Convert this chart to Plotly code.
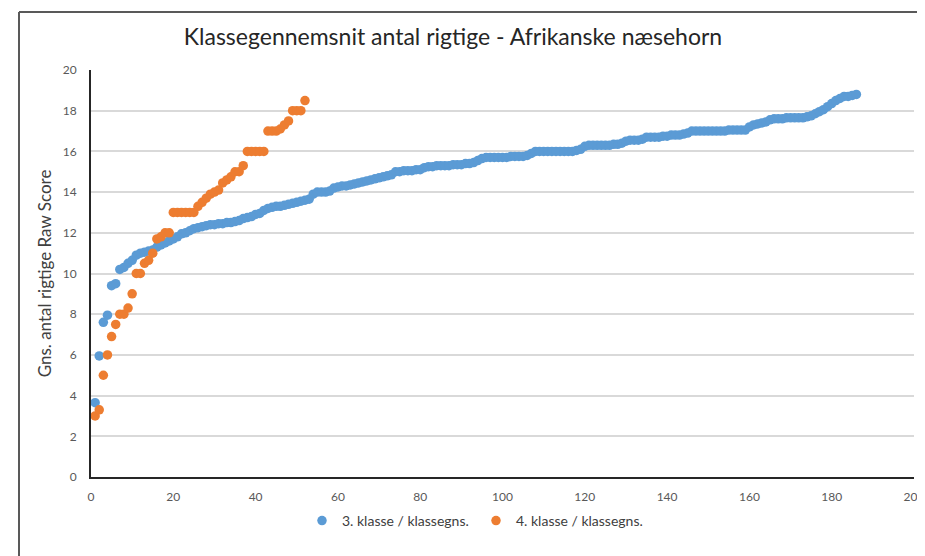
import plotly.graph_objects as go

title_text = "Klassegennemsnit antal rigtige - Afrikanske næsehorn"
y_title = "Gns. antal rigtige Raw Score"
series_names = ["3. klasse / klassegns.", "4. klasse / klassegns."]

klasse3 = [
    3.65, 5.95, 7.6, 7.95, 9.4, 9.5, 10.2, 10.3, 10.5, 10.65,
    10.9, 11.0, 11.05, 11.1, 11.15, 11.3, 11.4, 11.5, 11.6, 11.7,
    11.8, 11.95, 12.0, 12.1, 12.2, 12.25, 12.3, 12.35, 12.4, 12.4,
    12.45, 12.45, 12.5, 12.5, 12.55, 12.6, 12.7, 12.75, 12.8, 12.9,
    12.95, 13.1, 13.2, 13.25, 13.3, 13.3, 13.35, 13.4, 13.45, 13.5,
    13.55, 13.6, 13.65, 13.9, 14.0, 14.0, 14.0, 14.05, 14.2, 14.25,
    14.3, 14.3, 14.35, 14.4, 14.45, 14.5, 14.55, 14.6, 14.65, 14.7,
    14.75, 14.8, 14.85, 15.0, 15.0, 15.05, 15.05, 15.05, 15.1, 15.1,
    15.2, 15.25, 15.25, 15.3, 15.3, 15.3, 15.3, 15.35, 15.35, 15.35,
    15.4, 15.4, 15.45, 15.55, 15.65, 15.7, 15.7, 15.7, 15.7, 15.7,
    15.7, 15.75, 15.75, 15.75, 15.75, 15.8, 15.9, 16.0, 16.0, 16.0,
    16.0, 16.0, 16.0, 16.0, 16.0, 16.0, 16.0, 16.05, 16.1, 16.25,
    16.3, 16.3, 16.3, 16.3, 16.3, 16.3, 16.35, 16.35, 16.4, 16.5,
    16.55, 16.55, 16.55, 16.6, 16.7, 16.7, 16.7, 16.7, 16.75, 16.75,
    16.8, 16.8, 16.8, 16.85, 16.9, 17.0, 17.0, 17.0, 17.0, 17.0,
    17.0, 17.0, 17.0, 17.0, 17.05, 17.05, 17.05, 17.05, 17.05, 17.2,
    17.3, 17.35, 17.4, 17.45, 17.55, 17.6, 17.6, 17.6, 17.65, 17.65,
    17.65, 17.65, 17.65, 17.7, 17.75, 17.85, 17.95, 18.05, 18.2, 18.35,
    18.5, 18.6, 18.7, 18.7, 18.75, 18.8,
]

klasse4 = [
    3.0, 3.3, 5.0, 6.0, 6.9, 7.5, 8.0, 8.0, 8.3, 9.0,
    10.0, 10.0, 10.5, 10.65, 11.0, 11.7, 11.8, 12.0, 12.0, 13.0,
    13.0, 13.0, 13.0, 13.0, 13.0, 13.3, 13.5, 13.7, 13.9, 14.0,
    14.1, 14.45, 14.6, 14.75, 15.0, 15.0, 15.3, 16.0, 16.0, 16.0,
    16.0, 16.0, 17.0, 17.0, 17.0, 17.1, 17.3, 17.5, 18.0, 18.0,
    18.0, 18.5,
]

x3 = list(range(1, len(klasse3) + 1))
x4 = list(range(1, len(klasse4) + 1))

blue = "#5b9bd5"
orange = "#ed7d31"
font_family = "Lato, 'Open Sans', sans-serif"

fig = go.Figure()
fig.add_trace(go.Scatter(x=x3, y=klasse3, mode="markers", name=series_names[0],
                         marker=dict(color=blue, size=9.5, line=dict(width=0))))
fig.add_trace(go.Scatter(x=x4, y=klasse4, mode="markers", name=series_names[1],
                         marker=dict(color=orange, size=9.5, line=dict(width=0))))

# page body has an 8px margin: work in reference-pixel coordinates shifted by 8
OFF = 8
W, H = 925 - OFF, 556 - OFF
L, T = 91 - OFF, 70 - OFF
R = W - (914 - OFF)
B = H - (477 - OFF)
pw, ph = W - L - R, H - T - B

def px2paper_x(px):
    return (px - OFF - L) / pw

def py2paper_y(py):
    return (H - B - (py - OFF)) / ph

fig.update_layout(
    width=W, height=H,
    margin=dict(l=L, r=R, t=T, b=B, autoexpand=False),
    paper_bgcolor="white", plot_bgcolor="white",
    font=dict(family=font_family, color="#595959"),
    title=dict(text=title_text, x=(453 - OFF) / W, xanchor="center",
               y=1 - (37 - OFF) / H, yanchor="middle",
               font=dict(size=23, color="#262626", family=font_family)),
    showlegend=True,
    legend=dict(orientation="h", x=px2paper_x(302), xanchor="left",
                y=py2paper_y(521), yanchor="middle",
                font=dict(size=14, color="#404040"),
                entrywidth=129, itemwidth=30,
                bgcolor="rgba(0,0,0,0)"),
    xaxis=dict(range=[0, 200], tickvals=list(range(0, 201, 20)),
               showgrid=False, zeroline=False, automargin=False,
               showline=True, linecolor="#262626", linewidth=2,
               tickfont=dict(size=12, color="#595959"), ticks="",
               ticklabelstandoff=8, fixedrange=True),
    yaxis=dict(range=[0, 20], tickvals=list(range(0, 21, 2)),
               showgrid=True, gridcolor="#d9d9d9", gridwidth=2, automargin=False,
               zeroline=False, showline=True, linecolor="#262626", linewidth=2,
               tickfont=dict(size=12, color="#595959"), ticks="",
               ticklabelstandoff=10,
               title=dict(text=y_title, font=dict(size=17, color="#404040"), standoff=7),
               fixedrange=True),
)

# outer frame (top and left edges visible)
fig.add_shape(type="line", xref="paper", yref="paper",
              x0=px2paper_x(19), x1=px2paper_x(935), y0=py2paper_y(12), y1=py2paper_y(12),
              line=dict(color="#595959", width=2))
fig.add_shape(type="line", xref="paper", yref="paper",
              x0=px2paper_x(19), x1=px2paper_x(19), y0=py2paper_y(12), y1=py2paper_y(570),
              line=dict(color="#595959", width=2))

fig.write_html("out.html")
